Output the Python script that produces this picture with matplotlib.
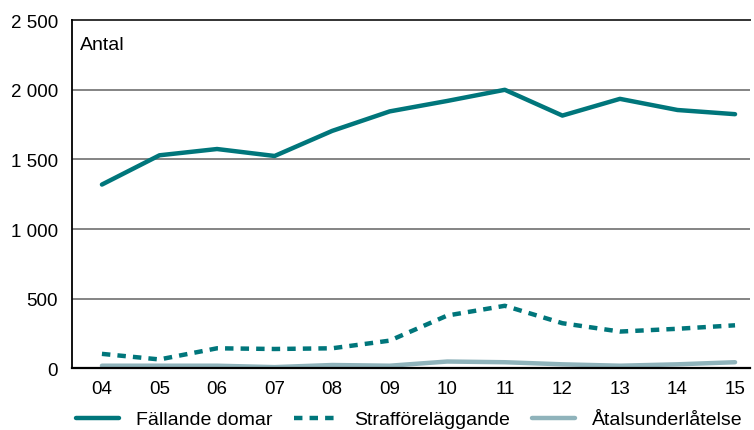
import matplotlib.pyplot as plt
import numpy as np

plt.rcParams['font.family'] = ['Liberation Sans', 'DejaVu Sans']

# Data
years = ['04', '05', '06', '07', '08', '09', '10', '11', '12', '13', '14', '15']
fallande_domar = [1320, 1530, 1575, 1525, 1705, 1845, 1920, 2000, 1815, 1935, 1855, 1825]
strafforelaggande = [105, 65, 145, 140, 145, 200, 380, 450, 325, 265, 285, 310]
atalsunderlatelse = [20, 20, 20, 10, 25, 20, 50, 45, 30, 20, 30, 45]
yticks = [0, 500, 1000, 1500, 2000, 2500]

teal = '#00767b'
light = '#8fb3bb'

fig = plt.figure(figsize=(7.54, 4.31), dpi=100)
ax = fig.add_axes([0.0955, 0.1427, 0.8992, 0.8083])

x = np.arange(len(years))
ax.plot(x, fallande_domar, color=teal, lw=3.2, solid_capstyle='round',
        solid_joinstyle='round', label='Fällande domar', zorder=4)
ax.plot(x, strafforelaggande, color=teal, lw=3.2, dashes=(1.9, 1.6),
        dash_capstyle='butt', label='Strafföreläggande', zorder=3)
ax.plot(x, atalsunderlatelse, color=light, lw=3.2, solid_capstyle='round',
        label='Åtalsunderlåtelse', zorder=2)

ax.set_xlim(-0.52, 11.26)
ax.set_ylim(0, 2500)
ax.set_xticks(x)
ax.set_xticklabels(years)
ax.set_yticks(yticks)
ax.set_yticklabels([f'{v:,}'.replace(',', ' ') for v in yticks])
ax.tick_params(length=0, labelsize=13.5, colors='black')
ax.tick_params(axis='x', pad=8)
ax.tick_params(axis='y', pad=10)

for v in yticks[1:-1]:
    ax.axhline(v, color='#707070', lw=1.2, zorder=1)
ax.axhline(2500, color='#333333', lw=1.4, zorder=1, clip_on=False)

for s in ['top', 'right']:
    ax.spines[s].set_visible(False)
ax.spines['left'].set_linewidth(1.3)
ax.spines['bottom'].set_linewidth(1.6)

ax.text(0.012, 0.955, 'Antal', transform=ax.transAxes, fontsize=14,
        va='top', ha='left')

fig.legend(loc='lower center', bbox_to_anchor=(0.543, -0.037), ncol=3,
           frameon=False, fontsize=14, handlelength=2.2, columnspacing=1.1,
           handletextpad=0.9)

fig.savefig('out.png', dpi=100)
